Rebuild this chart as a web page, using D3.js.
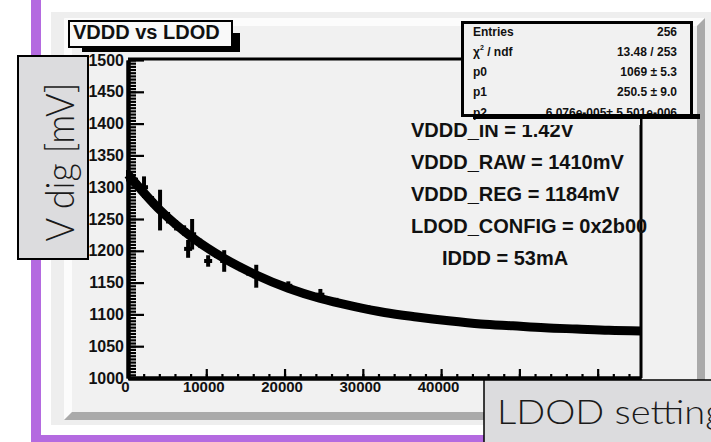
<!DOCTYPE html>
<html><head><meta charset="utf-8">
<script src="https://cdn.jsdelivr.net/npm/d3@7"></script>
<style>body{margin:0;background:#fff;} svg{display:block;}</style>
</head><body>
<svg id="c" width="711" height="442"></svg>
<script>
// ---------- data ----------
const titleText = "VDDD vs LDOD";
const yAxisTitle = "V dig [mV]";
const xAxisTitle = "LDOD setting";
const yTicks = [1000,1050,1100,1150,1200,1250,1300,1350,1400,1450,1500];
const yTickLabels = ["1000","1050","1100","1150","1200","1250","1300","1350","1400","1450","1500"];
const xTicks = [0,10000,20000,30000,40000,50000,60000];
// 50000 / 60000 labels are hidden behind the "LDOD setting" box in the reference
const xTickLabels = ["0","10000","20000","30000","40000","",""];
const statsNames = ["Entries","χ","p0","p1","p2"];
const statsValues = ["256","13.48 / 253","1069 ± 5.3","250.5 ± 9.0","6.076e-005± 5.501e-006"];
const notes = ["VDDD_IN = 1.42V","VDDD_RAW = 1410mV","VDDD_REG = 1184mV","LDOD_CONFIG = 0x2b00","IDDD = 53mA"];

const dataX = [0,1024,2048,3072,4096,5120,6144,7168,7680,8192,9216,10240,11264,12288,13312,14336,15360,16384,17408,18432,19456,20480,21504,22528,23552,24576,25600,26624,27648,28672,29696,30720,31744,32768,33792,34816,35840,36864,37888,38912,39936,40960,41984,43008,44032,45056,46080,47104,48128,49152,50176,51200,52224,53248,54272,55296,56320,57344,58368,59392,60416,61440,62464,63488,64512];
const dataY = [1318,1306,1300,1278,1264,1252,1240,1232,1203,1226,1212,1184,1195,1184,1181,1174,1167,1160,1156,1151,1146,1145,1137,1133,1129,1131,1122,1120,1116,1114,1110,1109,1105,1103,1101,1099,1097,1096,1094,1093,1091,1090,1089,1087,1086,1085,1084,1083,1082,1082,1081,1080,1080,1079,1078,1078,1077,1077,1076,1076,1075,1075,1075,1074,1074];
const dataErr = [9,9,17,8,32,9,8,8,14,24,7,9,6,17,6,6,6,18,5,5,5,7,5,5,5,9,5,6,4,5,4,5,4,4,3,3,3,3,3,3,3,3,3,3,3,3,3,3,3,3,3,3,3,3,3,3,3,3,3,3,3,3,3,3,3];
const fitX = [0,4096,8192,12288,16384,20480,24576,28672,32768,36864,40960,45056,49152,53248,57344,61440,65536];
const fitY = [1320,1264,1221,1188,1162,1141,1125,1113,1103,1096,1090,1085,1082,1079,1077,1075,1074];

// ---------- drawing ----------
const svg = d3.select("#c");
const purple = "#b46ae0";
const ROOTFONT = "'Liberation Sans', Arial, Helvetica, sans-serif";
const LIGHTFONT = "Lato, 'Open Sans', 'Noto Sans', sans-serif";

svg.append("rect").attr("x",0).attr("y",0).attr("width",711).attr("height",442).attr("fill","#ffffff");
svg.append("rect").attr("x",31).attr("y",0).attr("width",10).attr("height",442).attr("fill",purple);
svg.append("rect").attr("x",31).attr("y",435).attr("width",680).attr("height",7).attr("fill",purple);
// canvas
svg.append("rect").attr("x",51).attr("y",12).attr("width",660).attr("height",413).attr("fill","#eeeeee");
// pad with bevel
const P = {x0:64,y0:18,x1:705,y1:420,b:8};
svg.append("rect").attr("x",P.x0).attr("y",P.y0).attr("width",P.x1-P.x0).attr("height",P.y1-P.y0).attr("fill","#f1f1f1");
const poly = pts => pts.map(p=>p.join(",")).join(" ");
svg.append("polygon").attr("points",poly([[P.x0,P.y0],[P.x1,P.y0],[P.x1-P.b,P.y0+P.b],[P.x0+P.b,P.y0+P.b]])).attr("fill","#fcfcfc");
svg.append("polygon").attr("points",poly([[P.x0,P.y0],[P.x0+P.b,P.y0+P.b],[P.x0+P.b,P.y1-P.b],[P.x0,P.y1]])).attr("fill","#fcfcfc");
svg.append("polygon").attr("points",poly([[P.x0,P.y1],[P.x0+P.b,P.y1-P.b],[P.x1-P.b,P.y1-P.b],[P.x1,P.y1]])).attr("fill","#aaaaaa");
svg.append("polygon").attr("points",poly([[P.x1,P.y0],[P.x1,P.y1],[P.x1-P.b,P.y1-P.b],[P.x1-P.b,P.y0+P.b]])).attr("fill","#aaaaaa");

// scales
const L = 128, R = 641, T = 60, B = 378;
const x = d3.scaleLinear().domain([0,65536]).range([L,R]);
const y = d3.scaleLinear().domain([1000,1500]).range([B,T]);

// frame lines (top, right)
svg.append("line").attr("x1",L).attr("x2",461).attr("y1",T-1).attr("y2",T-1).attr("stroke","#000").attr("stroke-width",3);
svg.append("line").attr("x1",R).attr("x2",R).attr("y1",110).attr("y2",B).attr("stroke","#000").attr("stroke-width",3);

// y axis
const yMinor = d3.range(1000,1501,5);
const gyMin = svg.append("g").attr("transform",`translate(${L},0)`)
  .call(d3.axisLeft(y).tickValues(yMinor).tickSizeInner(-8).tickSizeOuter(0).tickFormat(""));
const gy = svg.append("g").attr("transform",`translate(${L},0)`)
  .call(d3.axisLeft(y).tickValues(yTicks).tickSizeInner(-16).tickSizeOuter(0).tickPadding(4)
    .tickFormat((d,i)=>yTickLabels[i]));
// x axis
const xMinor = d3.range(0,65537,2000);
const gxMin = svg.append("g").attr("transform",`translate(0,${B})`)
  .call(d3.axisBottom(x).tickValues(xMinor).tickSizeInner(-4).tickSizeOuter(0).tickFormat(""));
const gx = svg.append("g").attr("transform",`translate(0,${B})`)
  .call(d3.axisBottom(x).tickValues(xTicks).tickSizeInner(-9).tickSizeOuter(0).tickPadding(3)
    .tickFormat((d,i)=>xTickLabels[i]));
[gyMin,gy,gxMin,gx].forEach(g=>{
  g.selectAll(".domain").attr("stroke","#000").attr("stroke-width",4);
  g.selectAll(".tick line").attr("stroke","#000").attr("stroke-width",2.2);
});
gy.selectAll("text").attr("font-family",ROOTFONT).attr("font-weight","bold").attr("font-size",16).attr("fill","#111");
gx.selectAll("text").attr("font-family",ROOTFONT).attr("font-weight","bold").attr("font-size",15).attr("fill","#111").attr("dx",-3);

// fit curve
const line = d3.line().x((d,i)=>x(fitX[i])).y(d=>y(d)).curve(d3.curveMonotoneX);
svg.append("path").attr("d",line(fitY)).attr("fill","none").attr("stroke","#000").attr("stroke-width",9);
// data points with error bars
const pts = svg.append("g");
dataX.forEach((xv,i)=>{
  pts.append("line").attr("x1",x(xv)).attr("x2",x(xv)).attr("y1",y(dataY[i]-dataErr[i])).attr("y2",y(dataY[i]+dataErr[i]))
    .attr("stroke","#000").attr("stroke-width",4);
  pts.append("line").attr("x1",x(Math.max(0,xv-512))).attr("x2",x(xv+512)).attr("y1",y(dataY[i])).attr("y2",y(dataY[i]))
    .attr("stroke","#000").attr("stroke-width",4);
});

// annotations
const noteX = [411,411,411,411,442];
const noteBase = [137,169,201,233,265];
notes.forEach((t,i)=>{
  svg.append("text").attr("x",noteX[i]).attr("y",noteBase[i]).text(t)
    .attr("font-family",ROOTFONT).attr("font-weight","bold").attr("font-size",20).attr("fill","#111");
});
// the stats box overlaps the top of the first note
svg.append("rect").attr("x",474).attr("y",118).attr("width",166).attr("height",7).attr("fill","#f1f1f1");

// stats box
const sb = {x:461,y:21,w:232,h:96};
svg.append("rect").attr("x",sb.x).attr("y",sb.y).attr("width",sb.w).attr("height",sb.h).attr("fill","#f1f1f1");
const rowBase = [36,56,76,96,117];
statsNames.forEach((n,i)=>{
  const t = svg.append("text").attr("x",473).attr("y",rowBase[i])
    .attr("font-family",ROOTFONT).attr("font-weight","bold").attr("font-size",12).attr("fill","#111");
  if(i===1){
    t.append("tspan").text("χ");
    t.append("tspan").attr("dy",-6).attr("font-size",7).text("2");
    t.append("tspan").attr("dy",6).text(" / ndf");
  } else t.text(n);
  svg.append("text").attr("x",677).attr("y",rowBase[i]).attr("text-anchor","end").text(statsValues[i])
    .attr("font-family",ROOTFONT).attr("font-weight","bold").attr("font-size",12).attr("fill","#111");
});
svg.append("rect").attr("x",sb.x+1.5).attr("y",sb.y+1.5).attr("width",sb.w-3).attr("height",sb.h-3)
  .attr("fill","none").attr("stroke","#000").attr("stroke-width",3);
svg.append("rect").attr("x",473).attr("y",114).attr("width",227).attr("height",5).attr("fill","#000");

// title box
svg.append("rect").attr("x",82).attr("y",45).attr("width",158).attr("height",7).attr("fill","#000");
svg.append("rect").attr("x",232).attr("y",33).attr("width",8).attr("height",19).attr("fill","#000");
svg.append("rect").attr("x",69).attr("y",21).attr("width",163).attr("height",26).attr("fill","#f9f9f9").attr("stroke","#000").attr("stroke-width",2);
svg.append("text").attr("x",73).attr("y",39).text(titleText)
  .attr("font-family",ROOTFONT).attr("font-weight","bold").attr("font-size",20).attr("fill","#111");

// overlay: y title box
svg.append("rect").attr("x",18).attr("y",56).attr("width",70).attr("height",203).attr("fill","#dcdcde").attr("stroke","#000").attr("stroke-width",2);
svg.append("text").attr("transform","translate(74,162) rotate(-90) scale(0.9,1)").attr("text-anchor","middle").text(yAxisTitle)
  .attr("font-family",LIGHTFONT).attr("font-weight",300).attr("font-size",40).attr("fill","#1a1a1a");

// overlay: x title box
svg.append("rect").attr("x",484).attr("y",380).attr("width",240).attr("height",70).attr("fill","#dcdcde").attr("stroke","#000").attr("stroke-width",1.5);
svg.append("text").attr("transform","translate(497,424) scale(1.12,1)").text(xAxisTitle)
  .attr("font-family",LIGHTFONT).attr("font-weight",300).attr("font-size",34).attr("fill","#1a1a1a");
</script>
</body></html>
